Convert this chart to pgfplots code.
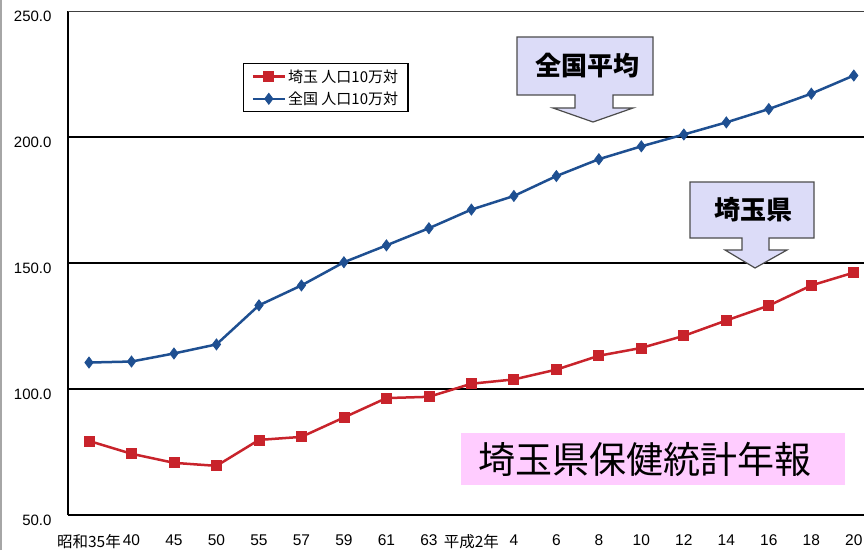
\documentclass[border=0pt]{standalone}
\usepackage{pgfplots}
\pgfplotsset{compat=1.18}
\usepackage{fontspec}
\setmainfont{Liberation Sans}
\newfontfamily\cjk{Noto Sans CJK JP}
\definecolor{sred}{HTML}{C8232B}
\definecolor{nblue}{HTML}{1E4F91}
\definecolor{callout}{HTML}{DCDCF8}
\definecolor{pinkbox}{HTML}{FFCCFF}
\begin{document}
\begin{tikzpicture}[x=1pt,y=1pt]
\useasboundingbox (0pt,0pt) rectangle (864pt,550pt);
\draw[gray!70, line width=2pt] (1pt,0pt) -- (1pt,550pt);
\begin{axis}[
  at={(68pt,35pt)}, anchor=south west,
  scale only axis, width=796pt, height=504pt,
  xmin=-0.494, xmax=18.24, ymin=50, ymax=250,
  axis x line=bottom, axis y line=left,
  axis line style={-, black, line width=1.8pt},
  ytick={50,100,150,200},
  extra y ticks={250}, extra y tick style={grid style={black!75, line width=1pt}},
  ymajorgrids, grid style={black, line width=1.5pt},
  major tick length=0pt,
  xtick={0,...,18},
  xticklabels={{\cjk 昭和35年},40,45,50,55,57,59,61,63,{\cjk 平成2年},4,6,8,10,12,14,16,18,20},
  xticklabel style={font=\fontsize{15.5}{17}\selectfont, yshift=-16pt},
  yticklabel style={font=\fontsize{15}{17}\selectfont, yshift=-5pt, xshift=-13pt},
  /pgf/number format/.cd, fixed, fixed zerofill, precision=1, assume math mode=true,
  /pgfplots/.cd,
  legend style={at={(0.2198,0.8968)}, anchor=north west, draw=black, line width=1.2pt,
    font=\cjk\fontsize{15}{17}\selectfont, inner xsep=8pt, inner ysep=4pt, row sep=4pt},
  legend cell align=left,
  legend image code/.code={\draw[mark repeat=2,mark phase=2,#1] plot coordinates {(0pt,0pt)(16pt,0pt)(32pt,0pt)};},
]
\addplot[sred, line width=2.5pt, mark=square*, mark size=5pt, mark options={fill=sred, line width=0.8pt}]
coordinates {(0,79.4)(1,74.3)(2,70.7)(3,69.5)(4,79.8)(5,81.0)(6,88.7)(7,96.4)(8,96.9)(9,102.1)(10,103.8)(11,107.7)(12,113.2)(13,116.3)(14,121.1)(15,127.2)(16,133.1)(17,141.1)(18,146.2)};
\addlegendentry{埼玉 人口10万対}
\addplot[nblue, line width=2.5pt, mark=diamond*, mark size=5.5pt, mark options={fill=nblue, line width=0.8pt}]
coordinates {(0,110.5)(1,110.9)(2,114.1)(3,117.7)(4,133.2)(5,141.1)(6,150.3)(7,157.0)(8,163.8)(9,171.2)(10,176.6)(11,184.5)(12,191.2)(13,196.3)(14,201.0)(15,205.8)(16,211.1)(17,217.2)(18,224.4)};
\addlegendentry{全国 人口10万対}
\end{axis}
% callouts
\filldraw[fill=callout, draw=black!70, line width=1.2pt]
 (517pt,513pt) -- (653pt,513pt) -- (653pt,455pt) -- (613pt,455pt) -- (613pt,442pt) -- (633pt,442pt) -- (593pt,428pt) -- (553pt,442pt) -- (575pt,442pt) -- (575pt,455pt) -- (517pt,455pt) -- cycle;
\node[font=\cjk\bfseries\fontsize{26}{28}\selectfont] at (587pt,484pt) {全国平均};
\filldraw[fill=callout, draw=black!70, line width=1.2pt]
 (690pt,368pt) -- (814pt,368pt) -- (814pt,312pt) -- (769pt,312pt) -- (769pt,300pt) -- (787pt,300pt) -- (755pt,282pt) -- (725pt,300pt) -- (742pt,300pt) -- (742pt,312pt) -- (690pt,312pt) -- cycle;
\node[font=\cjk\bfseries\fontsize{26}{28}\selectfont] at (753pt,340pt) {埼玉県};
\fill[pinkbox] (461pt,117pt) rectangle (845pt,65pt);
\node[font=\cjk\fontsize{37}{40}\selectfont] at (645pt,91pt) {埼玉県保健統計年報};
\end{tikzpicture}
\end{document}
